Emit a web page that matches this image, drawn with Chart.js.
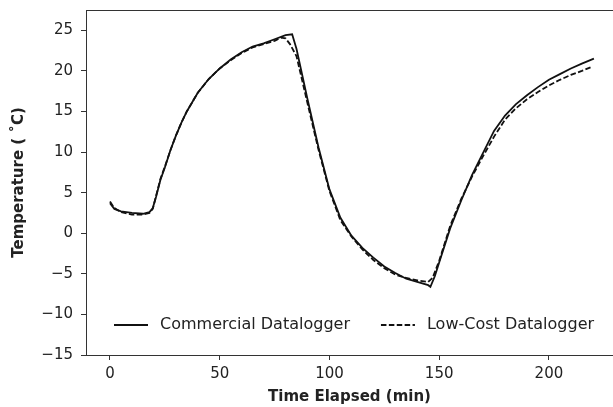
<!DOCTYPE html>
<html>
<head>
<meta charset="utf-8">
<script src="https://cdn.jsdelivr.net/npm/chart.js@4.4.0/dist/chart.umd.min.js"></script>
<style>
  html, body { margin: 0; padding: 0; background: #fff; }
  #wrap { width: 613px; height: 407px; position: relative; }
</style>
</head>
<body>
<div id="wrap"><canvas id="tempChart"></canvas></div>
<script>
// time (min) and temperature (deg C)
const timeCommercial = [0, 2, 5, 10, 15, 18, 19.5, 21, 23, 25, 27.5, 30, 32.5, 35, 40, 45, 50, 55, 60, 65, 70, 75, 80, 83,
  85, 90, 95, 100, 105, 110, 115, 120, 125, 130, 135, 140, 145, 146, 148, 150, 155, 160, 165, 170,
  175, 180, 185, 190, 195, 200, 205, 210, 215, 220.5];
const tempCommercial = [3.7, 3.0, 2.7, 2.5, 2.4, 2.6, 3.1, 4.5, 6.6, 8.1, 10.2, 12.0, 13.6, 15.0, 17.3, 19.0, 20.3, 21.4, 22.3, 23.0, 23.4, 23.9, 24.4, 24.5,
  22.7, 16.5, 10.6, 5.4, 1.9, -0.3, -1.8, -3.0, -4.1, -4.9, -5.6, -6.0, -6.4, -6.6, -5.3, -3.6, 0.6, 4.0, 7.2, 9.9,
  12.6, 14.5, 15.9, 17.0, 18.0, 18.9, 19.6, 20.3, 20.9, 21.5];

const timeLowCost = [0, 2, 5, 10, 15, 18, 19.5, 21, 23, 25, 27.5, 30, 32.5, 35, 40, 45, 50, 55, 60, 65, 70, 75, 78, 80, 82,
  85, 90, 95, 100, 105, 110, 115, 120, 125, 130, 135, 140, 145, 147, 150, 155, 160, 165, 170,
  175, 180, 185, 190, 195, 200, 205, 210, 215, 219.6];
const tempLowCost = [3.9, 3.1, 2.6, 2.3, 2.3, 2.5, 3.0, 4.6, 6.7, 8.2, 10.2, 12.0, 13.6, 15.0, 17.3, 19.0, 20.3, 21.3, 22.2, 22.9, 23.3, 23.7, 24.1, 24.0, 23.3,
  21.8, 16.0, 10.3, 5.2, 1.6, -0.4, -2.0, -3.3, -4.3, -5.1, -5.5, -5.8, -6.0, -5.5, -3.4, 0.9, 4.2, 7.0, 9.5,
  11.9, 14.0, 15.4, 16.5, 17.4, 18.2, 18.9, 19.5, 20.0, 20.5];

const seriesLabels = ["Commercial Datalogger", "Low-Cost Datalogger"];
const xTicks = [0, 50, 100, 150, 200];
const yTicks = [-15, -10, -5, 0, 5, 10, 15, 20, 25];

const FONT = "'DejaVu Sans', sans-serif";
const INK = "#222";

function toPoints(xs, ys) {
  return xs.map((x, i) => ({ x: x, y: ys[i] }));
}

// matplotlib style minus sign
function fmtTick(v) {
  return v < 0 ? "\u2212" + Math.abs(v) : String(v);
}

// box round the plot area, like matplotlib spines
const frame = {
  id: "frame",
  afterDraw(chart) {
    const a = chart.chartArea;
    const ctx = chart.ctx;
    ctx.save();
    ctx.strokeStyle = "#333";
    ctx.lineWidth = 1;
    ctx.strokeRect(a.left + 0.5, a.top + 0.5, a.right - a.left, a.bottom - a.top);
    ctx.restore();
  }
};

// legend drawn inside the plot, along the bottom
const insideLegend = {
  id: "insideLegend",
  afterDraw(chart) {
    const ctx = chart.ctx;
    const a = chart.chartArea;
    const y = a.bottom - 30;
    let x = a.left + 28;
    ctx.save();
    ctx.font = "16px " + FONT;
    ctx.textBaseline = "middle";
    chart.data.datasets.forEach(ds => {
      ctx.strokeStyle = ds.borderColor;
      ctx.lineWidth = ds.borderWidth;
      ctx.setLineDash(ds.borderDash || []);
      ctx.beginPath();
      ctx.moveTo(x, y);
      ctx.lineTo(x + 34, y);
      ctx.stroke();
      ctx.setLineDash([]);
      ctx.fillStyle = INK;
      ctx.fillText(ds.label, x + 46, y);
      x += 46 + ctx.measureText(ds.label).width + 31;
    });
    ctx.restore();
  }
};

const ctx = document.getElementById("tempChart");
new Chart(ctx, {
  type: "line",
  data: {
    datasets: [
      {
        label: seriesLabels[0],
        data: toPoints(timeCommercial, tempCommercial),
        borderColor: "#111",
        borderWidth: 1.8,
        pointRadius: 0,
        tension: 0
      },
      {
        label: seriesLabels[1],
        data: toPoints(timeLowCost, tempLowCost),
        borderColor: "#111",
        borderWidth: 1.8,
        borderDash: [5.5, 2.4],
        pointRadius: 0,
        tension: 0
      }
    ]
  },
  options: {
    responsive: true,
    maintainAspectRatio: false,
    animation: false,
    layout: { padding: { top: 10, right: 0, left: 0, bottom: 0 } },
    plugins: { legend: { display: false }, tooltip: { enabled: false } },
    scales: {
      x: {
        type: "linear",
        min: -10.93,
        max: 229.2,
        afterBuildTicks: s => { s.ticks = xTicks.map(v => ({ value: v })); },
        afterFit: s => { s.height = 52; s.paddingLeft = 0; s.paddingRight = 0; },
        ticks: { font: { family: FONT, size: 15 }, color: INK, padding: 5, maxRotation: 0, callback: fmtTick },
        grid: { drawOnChartArea: false, tickLength: 5, color: "#333" },
        border: { display: false },
        title: {
          display: true,
          text: "Time Elapsed (min)",
          font: { family: FONT, size: 15, weight: "bold" },
          color: INK,
          padding: { top: 0, bottom: 1 }
        }
      },
      y: {
        min: -15,
        max: 27.5,
        afterBuildTicks: s => { s.ticks = yTicks.map(v => ({ value: v })); },
        afterFit: s => { s.width = 86; s.paddingTop = 0; s.paddingBottom = 0; },
        ticks: { font: { family: FONT, size: 15 }, color: INK, padding: 8, callback: fmtTick },
        grid: { drawOnChartArea: false, tickLength: 5, color: "#333" },
        border: { display: false },
        title: {
          display: true,
          text: "Temperature ( \u02DAC)",
          font: { family: FONT, size: 15, weight: "bold" },
          color: INK,
          padding: { top: 10, bottom: 0 }
        }
      }
    }
  },
  plugins: [frame, insideLegend]
});
</script>
</body>
</html>
